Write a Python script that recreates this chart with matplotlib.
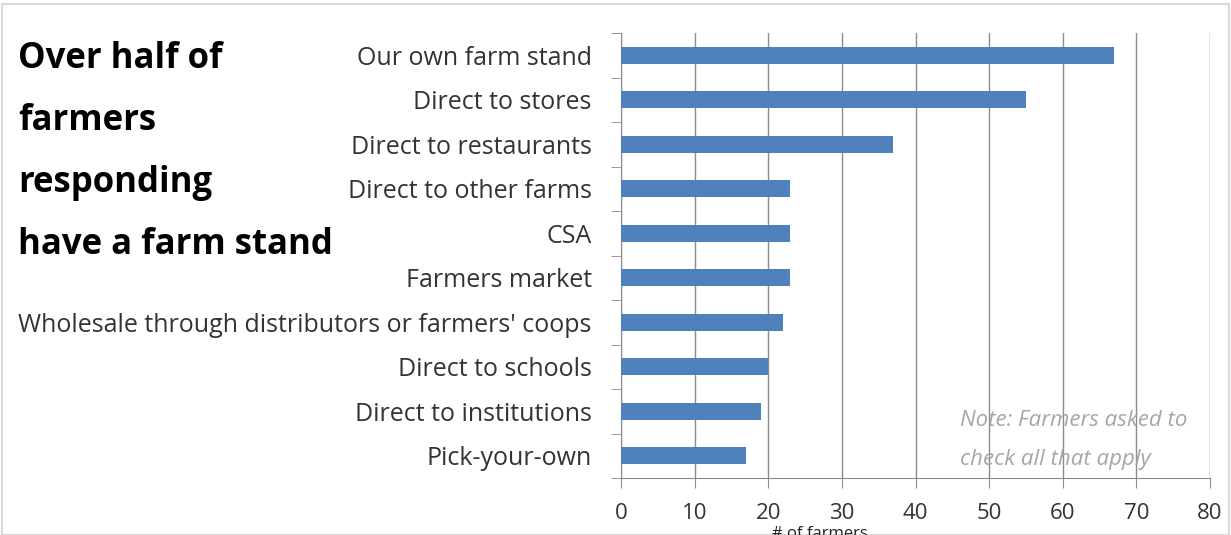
import matplotlib.pyplot as plt
from matplotlib.patches import Rectangle

# Survey answers: where farmers sell their products
channels = [
    "Our own farm stand",
    "Direct to stores",
    "Direct to restaurants",
    "Direct to other farms",
    "CSA",
    "Farmers market",
    "Wholesale through distributors or farmers' coops",
    "Direct to schools",
    "Direct to institutions",
    "Pick-your-own",
]
farmers = [67, 55, 37, 23, 23, 23, 22, 20, 19, 17]
x_ticks = [0, 10, 20, 30, 40, 50, 60, 70, 80]

plt.rcParams["font.family"] = ["Open Sans", "DejaVu Sans"]

W, H = 1231, 535
fig = plt.figure(figsize=(W / 100, H / 100), dpi=100)
ax = fig.add_axes([621 / W, 1 - 478 / H, 589 / W, 445 / H])

pos = list(range(len(channels)))
ax.barh(pos, farmers, height=0.38, color="#4F81BD", zorder=3)
ax.set_ylim(len(channels) - 0.5, -0.5)
ax.set_xlim(0, 80)

# category labels sit between the boundary ticks
ax.set_yticks(pos)
ax.set_yticklabels(channels, fontsize=18, color="#333333")
ax.set_yticks([p - 0.5 for p in pos] + [len(channels) - 0.5], minor=True)
ax.tick_params(axis="y", which="major", length=0, pad=21)
ax.tick_params(axis="y", which="minor", length=7, color="#8C8C8C")

ax.set_xticks(x_ticks)
ax.set_xticklabels([str(t) for t in x_ticks], fontsize=16, color="#333333")
ax.tick_params(axis="x", length=7, color="#8C8C8C", pad=11)
ax.grid(axis="x", color="#8C8C8C", linewidth=1, zorder=0)

for side in ["top", "right"]:
    ax.spines[side].set_visible(False)
for side in ["left", "bottom"]:
    ax.spines[side].set_color("#8C8C8C")

# axis title sits at the very bottom edge
fig.text(820 / W, 1 - 526 / H, "# of farmers", fontsize=12, color="#222222",
         ha="center", va="top")

# headline on the left
title_lines = ["Over half of", "farmers", "responding", "have a farm stand"]
for i, line in enumerate(title_lines):
    fig.text(18 / W, 1 - (59 + i * 62) / H, line, fontsize=25, fontweight="bold",
             va="center", ha="left", color="black")

fig.text(960 / W, 1 - 421 / H, "Note: Farmers asked to", fontsize=16, style="italic",
         color="#A6A6A6", va="center")
fig.text(960 / W, 1 - 460 / H, "check all that apply", fontsize=16, style="italic",
         color="#A6A6A6", va="center")

# thin frame round the figure
fig.patches.append(Rectangle((0.002, 0.0), 0.996, 0.993, transform=fig.transFigure,
                             fill=False, edgecolor="#D9D9D9", linewidth=1.5))

fig.savefig("out.png", dpi=100)
